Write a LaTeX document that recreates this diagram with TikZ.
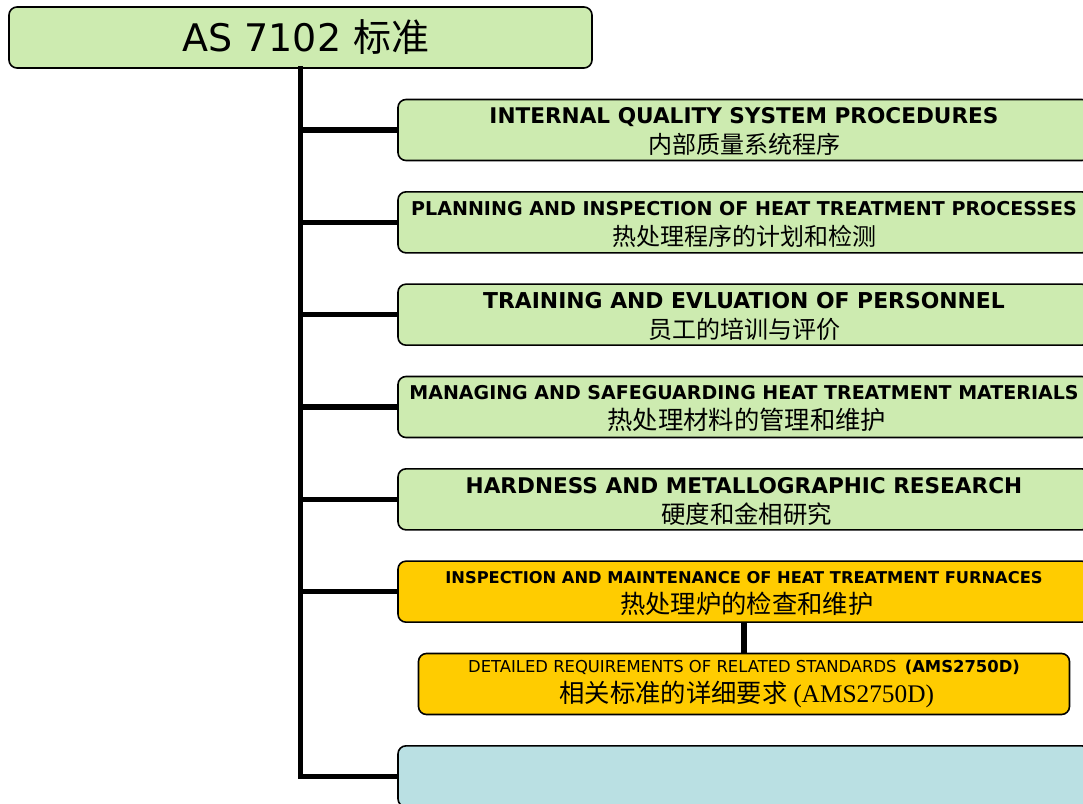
\documentclass[tikz,border=0pt]{standalone}
\usepackage{fontspec}
\setmainfont{DejaVu Sans}
\newfontfamily\cjk{Noto Sans CJK SC}
\newfontfamily\timesfont{Liberation Serif}
\usetikzlibrary{positioning}
\definecolor{boxgreen}{RGB}{205,235,176}
\definecolor{boxgold}{RGB}{255,204,0}
\definecolor{boxcyan}{RGB}{186,224,227}
\newcommand{\en}[1]{\fontsize{#1}{22.5}\selectfont\bfseries\rule{0pt}{0.92em}}
\newcommand{\zh}[1][18]{\cjk\fontsize{#1}{22.5}\selectfont}

\begin{document}
\begin{tikzpicture}[x=0.75pt,y=-0.75pt,
  box/.style={draw,line width=1.2pt,rounded corners=6pt,align=center,
              minimum width=519pt,minimum height=45.75pt,inner sep=0pt,
              fill=boxgreen,font=\fontsize{12}{22.5}\selectfont},
  link/.style={line width=4.2pt},
  node distance=22.3pt
]
\useasboundingbox (0,0) rectangle (1083,804);
\clip (0,0) rectangle (1083,804);
\node[box,minimum width=437.25pt,font=\fontsize{28.5}{28}\selectfont] (root) at (300.5,37.5) {\hspace{8pt}AS 7102 {\cjk 标准}};
\node[box] (qsp) at (744,130) {{\en{16.2}INTERNAL QUALITY SYSTEM PROCEDURES}\\{\zh 内部质量系统程序}};
\node[box,below=of qsp] (plan) {{\en{14.3}PLANNING AND INSPECTION OF HEAT TREATMENT PROCESSES}\\{\zh 热处理程序的计划和检测}};
\node[box,below=of plan] (train) {{\en{16.4}TRAINING AND EVLUATION OF PERSONNEL}\\{\zh 员工的培训与评价}};
\node[box,below=of train] (mat) {{\en{14.25}MANAGING AND SAFEGUARDING HEAT TREATMENT MATERIALS}\\{\zh[19] 热处理材料的管理和维护}};
\node[box,below=of mat] (hard) {{\en{16.2}HARDNESS AND METALLOGRAPHIC RESEARCH}\\{\zh[18.3] 硬度和金相研究}};
\node[box,fill=boxgold,below=of hard] (furn) {{\en{12.2}INSPECTION AND MAINTENANCE OF HEAT TREATMENT FURNACES}\\{\zh[19] 热处理炉的检查和维护}};
\node[box,fill=boxgold,minimum width=488.25pt,below=of furn] (ams) {{\fontsize{12.3}{22.5}\selectfont DETAILED REQUIREMENTS OF RELATED STANDARDS\enspace\textbf{(AMS2750D)}}\\{\zh[19] 相关标准的详细要求 {\timesfont (AMS2750D)}}};
\node[box,fill=boxcyan,below=of ams] (last) {};
\draw[link,line cap=rect] (root.south) -- (root.south |- last.west);
\foreach \n in {qsp,plan,train,mat,hard,furn,last}
  \draw[link] (root.south |- \n.west) -- (\n.west);
\draw[link] (furn.south) -- (ams.north);
\end{tikzpicture}
\end{document}
